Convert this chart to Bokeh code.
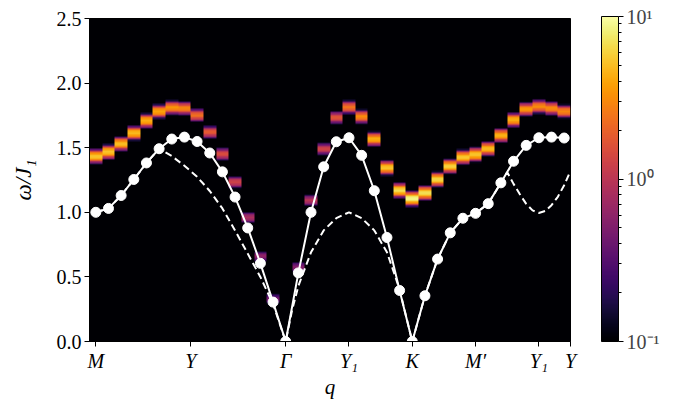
import numpy as np
from bokeh.plotting import figure
from bokeh.models import (Range1d, FixedTicker, LogColorMapper, ColorBar)
from bokeh.palettes import Inferno256
from bokeh.embed import file_html
from bokeh.resources import INLINE

# ---------------- data ----------------
q_tick_pos = [0, 7.5, 15, 20, 25, 30, 35, 37.5]
q_tick_labels = ["M", "Y", "Γ", "Y₁", "K", "M′", "Y₁", "Y"]
omega_ticks = [0.0, 0.5, 1.0, 1.5, 2.0, 2.5]

q_index = list(range(38))
omega_points = [1.00, 1.03, 1.13, 1.254, 1.382, 1.492, 1.567, 1.582, 1.548, 1.459,
                1.313, 1.118, 0.879, 0.605, 0.305, 0.0, 0.531, 1.00, 1.352, 1.546,
                1.577, 1.441, 1.167, 0.805, 0.395, 0.0, 0.354, 0.638, 0.841, 0.954,
                0.992, 1.067, 1.228, 1.395, 1.518, 1.577, 1.582, 1.575]

dash_q = [0, 1, 2, 3, 4, 5, 6, 7, 8, 9, 10, 11, 12, 13, 14, 15,
          15.5, 16, 17, 18, 19, 20, 21, 22, 23, 23.6, 24, 24.5, 25,
          26, 27, 28, 29, 30, 31, 32, 32.5, 33, 33.5, 34, 34.5, 35, 35.5, 36, 36.5, 37, 37.5]
dash_omega = [1.00, 1.03, 1.13, 1.254, 1.382, 1.492, 1.435, 1.36, 1.275, 1.165, 1.03, 0.86, 0.68, 0.50, 0.29, 0.0,
              0.24, 0.43, 0.69, 0.86, 0.955, 1.0, 0.955, 0.86, 0.69, 0.52, 0.40, 0.2, 0.0,
              0.354, 0.638, 0.841, 0.954, 0.992, 1.067, 1.228, 1.31, 1.22, 1.14, 1.065, 1.015, 0.995, 1.01, 1.055, 1.12, 1.21, 1.32]

peak_omega = [1.433, 1.467, 1.53, 1.613, 1.708, 1.78, 1.81, 1.805, 1.75, 1.62,
              1.45, 1.233, 0.96, 0.66, 0.33, 0.0, 0.575, 1.092, 1.49, 1.733,
              1.813, 1.74, 1.567, 1.344, 1.169, 1.105, 1.15, 1.254, 1.356, 1.426,
              1.446, 1.492, 1.595, 1.715, 1.798, 1.818, 1.805, 1.78]
peak_intensity = [5.5, 5.5, 5.0, 5.0, 4.5, 4.0, 3.5, 3.0, 2.4, 1.8,
                  1.5, 1.3, 0.85, 0.6, 0.45, 0.0, 0.55, 1.0, 1.3, 1.7,
                  2.5, 3.2, 4.5, 5.5, 7.0, 9.0, 7.0, 6.5, 6.0, 5.5,
                  5.5, 5.0, 4.5, 4.5, 3.5, 3.2, 3.2, 3.0]

# ------------- intensity map (Gaussian-broadened peaks) -------------
d_omega = 0.01
sigma = 0.022
omega_grid = np.arange(0.0, 2.5, d_omega) + d_omega / 2
S = np.zeros((len(omega_grid), len(q_index)))
for j, (c, a) in enumerate(zip(peak_omega, peak_intensity)):
    S[:, j] = a * np.exp(-(omega_grid - c) ** 2 / (2 * sigma ** 2))
S = np.maximum(S, 1e-3)

mapper = LogColorMapper(palette=Inferno256, low=0.1, high=10, low_color="#000004")

FONT = "Liberation Serif"

p = figure(width=676, height=401, output_backend="svg", toolbar_location=None,
           x_range=Range1d(-0.5, 37.5), y_range=Range1d(0, 2.5),
           min_border_left=89, min_border_top=18, min_border_bottom=58, min_border_right=106)
p.grid.visible = False
p.background_fill_color = "black"
p.outline_line_color = "black"

p.image(image=[S], x=-0.5, y=0, dw=38, dh=2.5, color_mapper=mapper)

p.line(dash_q, dash_omega, line_color="white", line_width=2, line_dash="7 4")
p.line(q_index, omega_points, line_color="white", line_width=2)
p.scatter(q_index, omega_points, size=10, fill_color="white", line_color="white")

# axes
p.xaxis.ticker = FixedTicker(ticks=q_tick_pos)
p.xaxis.major_label_overrides = {k: v for k, v in zip(q_tick_pos, q_tick_labels)}
p.yaxis.ticker = FixedTicker(ticks=omega_ticks)
p.yaxis.major_label_overrides = {k: f"{k:.1f}" for k in omega_ticks}
for ax in (p.xaxis[0], p.yaxis[0]):
    ax.major_tick_out = 5
    ax.major_tick_in = 0
    ax.minor_tick_line_color = None
    ax.axis_line_color = "black"
    ax.major_label_text_font = FONT
    ax.major_label_text_font_size = "20px"
    ax.major_label_text_color = "black"
    ax.major_label_standoff = 3
    ax.axis_label_text_font = FONT
    ax.axis_label_text_font_style = "italic"
    ax.axis_label_text_color = "black"
p.xaxis.major_label_text_font_style = "italic"
p.xaxis.major_label_standoff = 3

p.yaxis.axis_label = "ω/J₁"
p.yaxis.axis_label_text_font_size = "23px"
p.yaxis.axis_label_standoff = 18

p.xaxis.axis_label = "q"
p.xaxis.axis_label_text_font_size = "21px"
p.xaxis.axis_label_standoff = 0

cb = ColorBar(color_mapper=mapper, width=17, height=325, location=(31, 0),
              ticker=FixedTicker(ticks=[0.1, 1, 10],
                                 minor_ticks=[0.2, 0.3, 0.4, 0.5, 0.6, 0.7, 0.8, 0.9,
                                              2, 3, 4, 5, 6, 7, 8, 9]),
              major_label_overrides={0.1: "10⁻¹", 1: "10⁰", 10: "10¹"},
              major_label_text_font=FONT, major_label_text_font_size="20px",
              major_tick_in=0, major_tick_out=5, major_tick_line_color="black",
              minor_tick_in=0, minor_tick_out=3, minor_tick_line_color="black",
              bar_line_color="black", border_line_color=None,
              background_fill_alpha=0, padding=0, margin=0, label_standoff=3)
p.add_layout(cb, "right")

open("out.html", "w").write(file_html(p, INLINE))
